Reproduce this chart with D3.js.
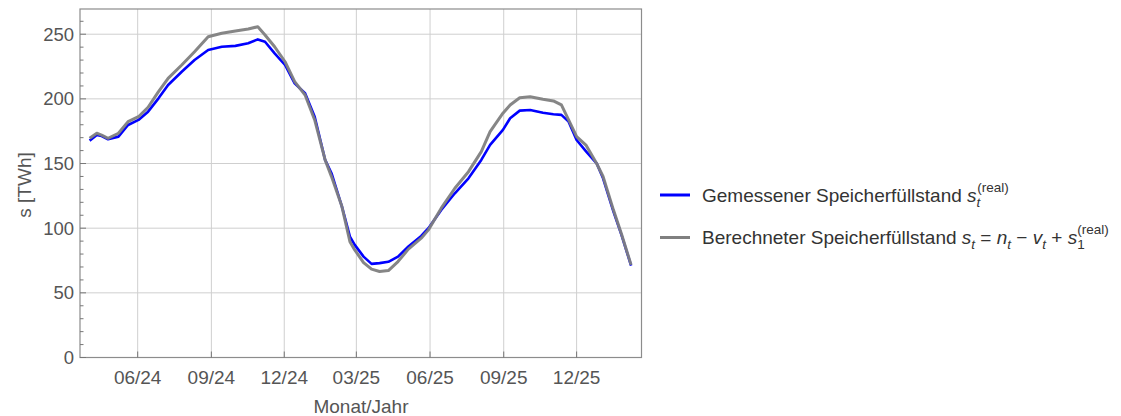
<!DOCTYPE html>
<html>
<head>
<meta charset="utf-8">
<script src="https://cdn.jsdelivr.net/npm/d3@7"></script>
<style>
  body { margin: 0; background: #fff; }
  svg { font-family: "Liberation Sans", Arial, sans-serif; }
</style>
</head>
<body>
<svg id="chart" width="1121" height="416"></svg>
<script>
const dates = [
  "2024-04-02","2024-04-11","2024-04-17","2024-04-25","2024-05-08","2024-05-20","2024-06-02","2024-06-14",
  "2024-06-27","2024-07-09","2024-07-26","2024-08-11","2024-08-28","2024-09-14","2024-10-01","2024-10-17",
  "2024-10-29","2024-11-07","2024-11-19","2024-12-02","2024-12-14","2024-12-27","2025-01-08","2025-01-21",
  "2025-01-29","2025-02-11","2025-02-21","2025-02-27","2025-03-10","2025-03-20","2025-03-30","2025-04-10",
  "2025-04-22","2025-05-05","2025-05-21","2025-05-30","2025-06-15","2025-07-02","2025-07-19","2025-08-04",
  "2025-08-15","2025-08-31","2025-09-09","2025-09-21","2025-10-04","2025-10-20","2025-11-02","2025-11-12",
  "2025-11-21","2025-12-01","2025-12-13","2025-12-26","2026-01-03","2026-01-16","2026-01-26","2026-02-07"
];
const measured = [
  167.7, 172.1, 171.3, 168.8, 170.8, 179.8, 183.7, 190.1,
  200.4, 210.7, 221.0, 230.0, 237.8, 240.3, 241.0, 243.0,
  246.0, 244.2, 235.2, 226.2, 212.0, 204.3, 186.2, 152.8,
  142.5, 116.7, 93.5, 87.1, 78.0, 72.4, 73.0, 74.0,
  78.0, 85.8, 94.0, 100.0, 114.1, 127.0, 138.6, 152.8,
  164.4, 176.0, 185.0, 190.9, 191.4, 189.3, 188.1, 187.6,
  182.4, 168.2, 159.2, 150.2, 138.6, 112.8, 94.8, 71.1
];
const computed = [
  169.5, 173.4, 172.0, 169.5, 173.4, 182.4, 186.2, 193.5,
  205.6, 215.9, 226.2, 236.5, 248.1, 250.7, 252.5, 254.0,
  255.8, 249.4, 240.3, 228.7, 213.3, 203.0, 183.7, 152.8,
  139.9, 116.7, 89.6, 83.2, 73.4, 68.3, 66.5, 67.2,
  74.2, 83.8, 92.3, 98.7, 115.5, 130.9, 143.7, 159.2,
  174.7, 188.9, 195.3, 200.9, 201.7, 199.7, 198.4, 195.3,
  183.7, 170.8, 164.0, 150.0, 140.0, 114.0, 95.5, 71.6
];
const xTicks = ["2024-06-01","2024-09-01","2024-12-01","2025-03-01","2025-06-01","2025-09-01","2025-12-01"];
const yTicks = [0, 50, 100, 150, 200, 250];
const yMinorTicks = d3.range(0, 270, 10);
const xDomain = ["2024-03-21", "2026-02-20"];
const yDomain = [0, 269.5];

const parse = d3.timeParse("%Y-%m-%d");
const rows = dates.map((d, i) => ({ date: parse(d), measured: measured[i], computed: computed[i] }));

const plot = { left: 80, right: 641.5, top: 9, bottom: 357.5 };
const svg = d3.select("#chart");

const x = d3.scaleTime().domain(xDomain.map(parse)).range([plot.left, plot.right]);
const y = d3.scaleLinear().domain(yDomain).range([plot.bottom, plot.top]);

// grid
svg.append("g").selectAll("line").data(xTicks.map(parse)).join("line")
   .attr("x1", d => x(d)).attr("x2", d => x(d))
   .attr("y1", plot.top).attr("y2", plot.bottom)
   .attr("stroke", "#cfcfcf").attr("stroke-width", 1);
svg.append("g").selectAll("line").data(yTicks.slice(1)).join("line")
   .attr("x1", plot.left).attr("x2", plot.right)
   .attr("y1", d => y(d)).attr("y2", d => y(d))
   .attr("stroke", "#cfcfcf").attr("stroke-width", 1);

// series
const line = key => d3.line().x(d => x(d.date)).y(d => y(d[key])).curve(d3.curveLinear);
svg.append("path").datum(rows)
   .attr("fill", "none").attr("stroke", "#0000ff").attr("stroke-width", 2.6)
   .attr("stroke-linejoin", "round").attr("d", line("measured"));
svg.append("path").datum(rows)
   .attr("fill", "none").attr("stroke", "#808080").attr("stroke-width", 3).attr("stroke-opacity", 0.95)
   .attr("stroke-linejoin", "round").attr("d", line("computed"));

// frame
svg.append("rect")
   .attr("x", plot.left).attr("y", plot.top)
   .attr("width", plot.right - plot.left).attr("height", plot.bottom - plot.top)
   .attr("fill", "none").attr("stroke", "#8c8c8c").attr("stroke-width", 1.2);

// ticks (pointing inward)
svg.append("g").selectAll("line").data(yMinorTicks).join("line")
   .attr("x1", plot.left).attr("x2", d => plot.left + (d % 50 === 0 ? 6 : 3.5))
   .attr("y1", d => y(d)).attr("y2", d => y(d))
   .attr("stroke", "#777").attr("stroke-width", 1);
svg.append("g").selectAll("line").data(xTicks.map(parse)).join("line")
   .attr("x1", d => x(d)).attr("x2", d => x(d))
   .attr("y1", plot.bottom).attr("y2", plot.bottom - 6)
   .attr("stroke", "#777").attr("stroke-width", 1);

// tick labels
const fmt = d3.timeFormat("%m/%y");
svg.append("g").selectAll("text").data(yTicks).join("text")
   .attr("x", plot.left - 6).attr("y", d => y(d) + 6.5)
   .attr("text-anchor", "end").attr("font-size", 18.5).attr("fill", "#555")
   .text(d => d);
svg.append("g").selectAll("text").data(xTicks.map(parse)).join("text")
   .attr("x", d => x(d)).attr("y", 384)
   .attr("text-anchor", "middle").attr("font-size", 19).attr("fill", "#555")
   .text(d => fmt(d));

// axis titles
svg.append("text")
   .attr("transform", "translate(31,185) rotate(-90)")
   .attr("text-anchor", "middle").attr("font-size", 19).attr("fill", "#555")
   .text("s [TWh]");
svg.append("text")
   .attr("x", 361).attr("y", 413)
   .attr("text-anchor", "middle").attr("font-size", 19).attr("fill", "#555")
   .text("Monat/Jahr");

// legend
const legend = svg.append("g");
legend.append("line").attr("x1", 660).attr("x2", 690).attr("y1", 195).attr("y2", 195)
      .attr("stroke", "#0000ff").attr("stroke-width", 3);
legend.append("line").attr("x1", 660).attr("x2", 690).attr("y1", 237.5).attr("y2", 237.5)
      .attr("stroke", "#808080").attr("stroke-width", 3);

const fs = 19, ss = 13.5;
const t1 = legend.append("text").attr("x", 702).attr("y", 202)
      .attr("font-size", fs).attr("fill", "#333");
t1.append("tspan").text("Gemessener Speicherfüllstand ");
t1.append("tspan").attr("font-style", "italic").text("s");
t1.append("tspan").attr("font-style", "italic").attr("font-size", ss).attr("dy", 5).text("t");
t1.append("tspan").attr("font-size", ss).attr("dx", -3).attr("dy", -15).text("(real)");

const t2 = legend.append("text").attr("x", 702).attr("y", 244)
      .attr("font-size", fs).attr("fill", "#333");
t2.append("tspan").text("Berechneter Speicherfüllstand ");
t2.append("tspan").attr("font-style", "italic").text("s");
t2.append("tspan").attr("font-style", "italic").attr("font-size", ss).attr("dy", 5).text("t");
t2.append("tspan").attr("dy", -5).text(" = ");
t2.append("tspan").attr("font-style", "italic").text("n");
t2.append("tspan").attr("font-style", "italic").attr("font-size", ss).attr("dy", 5).text("t");
t2.append("tspan").attr("dy", -5).text(" \u2212 ");
t2.append("tspan").attr("font-style", "italic").text("v");
t2.append("tspan").attr("font-style", "italic").attr("font-size", ss).attr("dy", 5).text("t");
t2.append("tspan").attr("dy", -5).text(" + ");
t2.append("tspan").attr("font-style", "italic").text("s");
t2.append("tspan").attr("font-size", ss).attr("dy", 5).text("1");
t2.append("tspan").attr("font-size", ss).attr("dx", -7.5).attr("dy", -15).text("(real)");
</script>
</body>
</html>
